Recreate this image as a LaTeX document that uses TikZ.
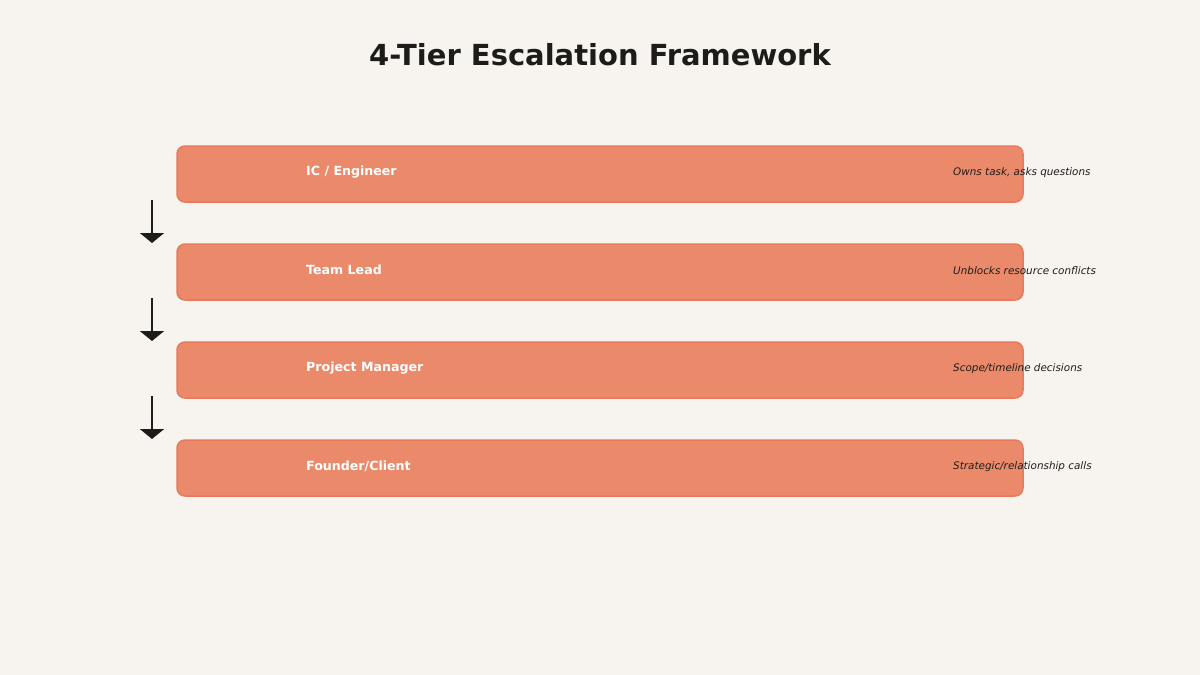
\documentclass[tikz,border=0pt]{standalone}
\usepackage{fontspec}
\setmainfont{DejaVu Sans}
\usetikzlibrary{arrows.meta}
\definecolor{bgcol}{HTML}{F7F4F0}
\definecolor{tiercol}{HTML}{EB8A6B}
\definecolor{tierline}{HTML}{E8795A}
\definecolor{inkcol}{HTML}{1E1C19}
\tikzset{
  tier/.style={draw=tierline,fill=tiercol,line width=1.5,rounded corners=8,
    minimum width=846,minimum height=56,inner sep=0,anchor=center},
  tierlabel/.style={anchor=west,text=white,font=\fontsize{12.6}{15}\selectfont\bfseries,inner sep=0},
  tierdesc/.style={anchor=west,text=inkcol,font=\fontsize{10.4}{12}\selectfont\itshape,inner sep=0},
  escal/.style={draw=inkcol,line width=1.8,-{Triangle[width=24,length=10]}}
}
\begin{document}
\begin{tikzpicture}[x=1pt,y=-1pt]
\fill[bgcol] (0,0) rectangle (1200,675);
\node[text=inkcol,font=\fontsize{29}{34}\selectfont\bfseries] (title) at (600,55) {4-Tier Escalation Framework};
% tiers
\node[tier] (t1) at (600,174) {};
\node[tierlabel] (l1) at (306,172) {IC / Engineer};
\node[tierdesc] (d1) at (953,173) {Owns task, asks questions};
\node[tier] (t2) at (600,272) {};
\node[tierlabel] (l2) at (306,270) {Team Lead};
\node[tierdesc] (d2) at (953,271) {Unblocks resource conflicts};
\node[tier] (t3) at (600,370) {};
\node[tierlabel] (l3) at (306,368) {Project Manager};
\node[tierdesc] (d3) at (953,369) {Scope/timeline decisions};
\node[tier] (t4) at (600,468) {};
\node[tierlabel] (l4) at (306,466) {Founder/Client};
\node[tierdesc] (d4) at (953,467) {Strategic/relationship calls};
% escalation arrows
\coordinate (a1) at (152,200);
\coordinate (b1) at (152,243);
\coordinate (a2) at (152,298);
\coordinate (b2) at (152,341);
\coordinate (a3) at (152,396);
\coordinate (b3) at (152,439);
\draw[escal] (a1) -- (b1);
\draw[escal] (a2) -- (b2);
\draw[escal] (a3) -- (b3);
\end{tikzpicture}
\end{document}
